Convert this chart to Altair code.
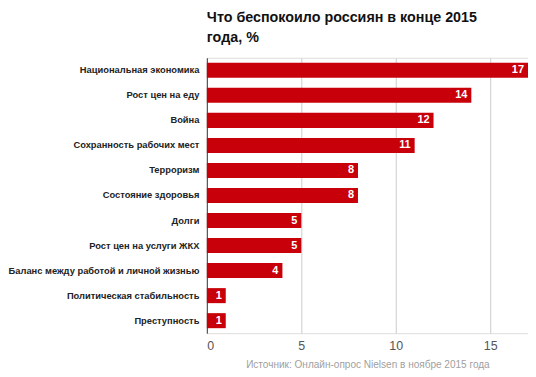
import altair as alt
import pandas as pd

categories = [
    "Национальная экономика",
    "Рост цен на еду",
    "Война",
    "Сохранность рабочих мест",
    "Терроризм",
    "Состояние здоровья",
    "Долги",
    "Рост цен на услуги ЖКХ",
    "Баланс между работой и личной жизнью",
    "Политическая стабильность",
    "Преступность",
]
values = [17, 14, 12, 11, 8, 8, 5, 5, 4, 1, 1]
x_ticks = [0, 5, 10, 15]

df = pd.DataFrame({"cat": categories, "val": values})

FONT = "Liberation Sans"
RED = "#c8000a"

y_enc = alt.Y(
    "cat:N",
    sort=categories,
    scale=alt.Scale(paddingInner=0.4, paddingOuter=0.2),
    axis=alt.Axis(
        title=None,
        ticks=False,
        domain=True,
        domainColor="#444444",
        labelFont=FONT,
        labelFontSize=9.4,
        labelFontWeight="bold",
        labelColor="#222222",
        labelPadding=8,
        labelLimit=300,
    ),
)
x_enc = alt.X(
    "val:Q",
    scale=alt.Scale(domain=[0, 17], nice=False),
    axis=alt.Axis(
        values=x_ticks,
        title="Источник: Онлайн-опрос Nielsen в ноябре 2015 года",
        titleFont=FONT,
        titleFontSize=10.1,
        titleFontWeight="normal",
        titleColor="#a0a0a0",
        titlePadding=8,
        labelFont=FONT,
        labelFontSize=12.5,
        labelColor="#555555",
        labelPadding=6,
        ticks=False,
        domain=False,
        grid=True,
        gridColor="#cccccc",
    ),
)

bars = alt.Chart(df).mark_bar(color=RED).encode(x=x_enc, y=y_enc)
labels = alt.Chart(df).mark_text(
    align="right", baseline="middle", dx=-4, color="white",
    font=FONT, fontSize=11, fontWeight="bold"
).encode(
    x=alt.X("val:Q"),
    y=alt.Y("cat:N", sort=categories),
    text=alt.Text("val:Q"),
)

chart = (
    alt.layer(bars, labels)
    .properties(
        width=323,
        height=277,
        title=alt.TitleParams(
            text=["Что беспокоило россиян в конце 2015", "года, %"],
            anchor="start",
            frame="group",
            font=FONT,
            fontSize=14.4,
            fontWeight="bold",
            color="#111111",
            lineHeight=21,
            offset=12,
        ),
        autosize=alt.AutoSizeParams(type="none"),
        padding={"left": 200, "top": 49, "right": 0, "bottom": 43},
    )
    .configure_view(stroke=None)
    .configure(background="white")
)

chart.save("out.html", embed_options={"renderer": "svg", "actions": False})
